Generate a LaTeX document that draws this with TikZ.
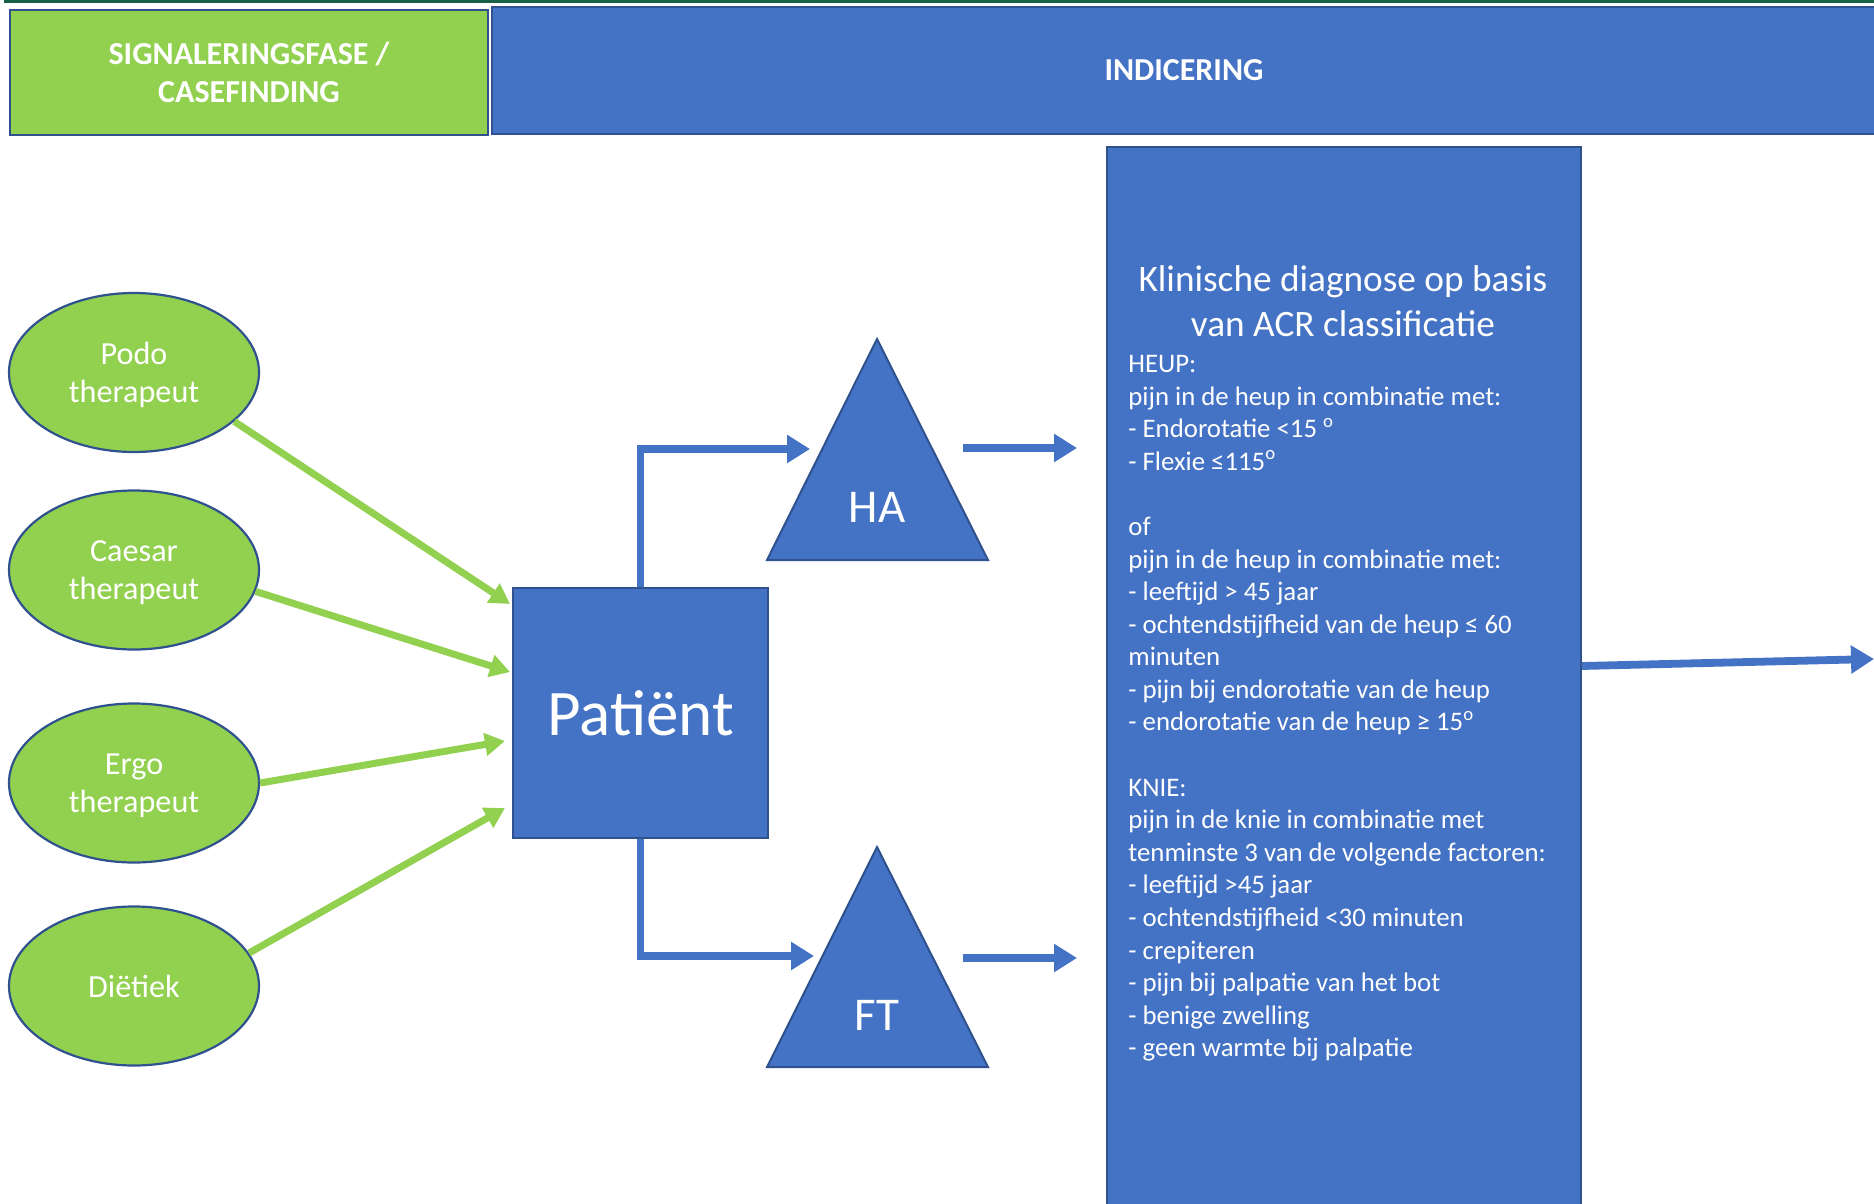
\documentclass[tikz,border=0pt]{standalone}
\usepackage{fontspec}
\setmainfont{Carlito}
\usetikzlibrary{shapes.geometric,arrows.meta}
\definecolor{bfill}{HTML}{4472C4}
\definecolor{bedge}{HTML}{2F528F}
\definecolor{gfill}{HTML}{92D050}
\definecolor{topline}{RGB}{24,98,70}
\begin{document}
\begin{tikzpicture}[x=0.5pt,y=-0.5pt,
  hdrbox/.style={draw=bedge,line width=1.3pt,text=white,align=center,inner sep=0pt,
    font=\fontsize{16}{19}\selectfont\bfseries},
  greenell/.style={ellipse,draw=bedge,line width=1.1pt,fill=gfill,text=white,align=center,
    inner sep=0pt,minimum width=125pt,minimum height=79.5pt,text depth=0pt,
    font=\fontsize{16.1}{19}\selectfont},
  bluebox/.style={draw=bedge,line width=1pt,fill=bfill,inner sep=0pt},
  tri/.style={draw=bedge,line width=1pt,fill=bfill,line join=miter},
  barrow/.style={draw=bfill,line width=3.9pt,-{Triangle[length=11.5pt,width=13.5pt]}},
  garrow/.style={draw=gfill,line width=3.5pt,-{Triangle[length=10pt,width=11pt]}},
  whitetext/.style={text=white,inner sep=0pt}
]
\useasboundingbox (0,0) rectangle (1874,1204);
% top line
\draw[topline,line width=1.6pt] (4,1.5) -- (1874,1.5);
% headers
\node[hdrbox,fill=gfill,minimum width=239pt,minimum height=62.5pt] (sig) at (249,72.5)
  {SIGNALERINGSFASE /\\CASEFINDING};
\node[hdrbox,fill=bfill,minimum width=692pt,minimum height=63.5pt] (ind) at (1184,70.5)
  {INDICERING};
% big text box
\node[bluebox,minimum width=237pt,minimum height=534pt] (acr) at (1344,681) {};
\node[whitetext,align=center,font=\fontsize{18.65}{22.5}\selectfont] (acrtitle) at (1343,301.5)
  {Klinische diagnose op basis\\van ACR classificatie};
\node[whitetext,align=left,anchor=north west,font=\fontsize{13.4}{16.29}\selectfont] (acrtext) at (1128,355)
  {HEUP:\\
   pijn in de heup in combinatie met:\\
   - Endorotatie <15 \textsuperscript{o}\\
   - Flexie ≤115\textsuperscript{o}\\
   \mbox{}\\
   of\\
   pijn in de heup in combinatie met:\\
   - leeftijd > 45 jaar\\
   - ochtendstijfheid van de heup ≤ 60\\
   minuten\\
   - pijn bij endorotatie van de heup\\
   - endorotatie van de heup ≥ 15\textsuperscript{o}\\
   \mbox{}\\
   KNIE:\\
   pijn in de knie in combinatie met\\
   tenminste 3 van de volgende factoren:\\
   - leeftijd >45 jaar\\
   - ochtendstijfheid <30 minuten\\
   - crepiteren\\
   - pijn bij palpatie van het bot\\
   - benige zwelling\\
   - geen warmte bij palpatie};
% ellipses
\node[greenell] (podo) at (134,372.5) {Podo\\therapeut};
\node[greenell] (caesar) at (134,570) {Caesar\\therapeut};
\node[greenell] (ergo) at (134,783) {Ergo\\therapeut};
\node[greenell] (diet) at (134,986) {Diëtiek};
% patient
\node[bluebox,minimum width=127.5pt,minimum height=125pt,text=white,
  font=\fontsize{32.5}{36}\selectfont] (pat) at (640.5,713) {Patiënt};
% triangles
\path[tri] (877,339) -- (988,560) -- (767,560) -- cycle;
\node[whitetext,font=\fontsize{23.5}{28}\selectfont] (ha) at (877,507) {HA};
\path[tri] (877,847) -- (988,1067) -- (767,1067) -- cycle;
\node[whitetext,font=\fontsize{23.5}{28}\selectfont] (ft) at (877,1015) {FT};
% connector end points
\coordinate (haIn) at (810,449);
\coordinate (ftIn) at (814,956);
\coordinate (haOutA) at (963,448);
\coordinate (haOutB) at (1077,448);
\coordinate (ftOutA) at (963,958);
\coordinate (ftOutB) at (1077,958);
\coordinate (acrOut) at (1874,659);
\coordinate (pIn1) at (510,604);
\coordinate (pIn2) at (510,672);
\coordinate (pIn3) at (505,741);
\coordinate (pIn4) at (505,808);
% blue connectors
\draw[barrow] (pat.north) |- (haIn);
\draw[barrow] (pat.south) |- (ftIn);
\draw[barrow] (haOutA) -- (haOutB);
\draw[barrow] (ftOutA) -- (ftOutB);
\draw[barrow] (acr.east |- 0,666) -- (acrOut);
% green connectors
\draw[garrow] (podo.-26) -- (pIn1);
\draw[garrow] (caesar.-10) -- (pIn2);
\draw[garrow] (ergo.0) -- (pIn3);
\draw[garrow] (diet.16) -- (pIn4);
\end{tikzpicture}
\end{document}
